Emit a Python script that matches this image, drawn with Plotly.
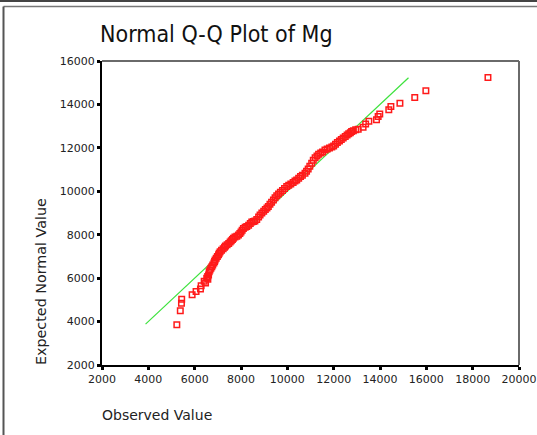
import plotly.graph_objects as go

observed = [
    5230, 5380, 5430, 5440, 5890, 6060, 6250, 6280, 6410, 6470, 6520, 6570, 6560, 6600,
    6625, 6660, 6700, 6741, 6780, 6830, 6860, 6883, 6930, 6980, 7030, 7060, 7099,
    7160, 7230, 7290, 7330, 7400, 7470, 7530, 7580, 7630, 7673,
    7740, 7820, 7890, 7950, 8000, 8050, 8104,
    8180, 8250, 8330, 8400, 8465, 8535, 8600,
    8680, 8760, 8823, 8900, 8980, 9050, 9120, 9180,
    9250, 9320, 9400, 9470, 9543, 9620, 9700, 9790, 9880, 9974,
    10060, 10150, 10250, 10330, 10405, 10490, 10570, 10650, 10762,
    10830, 10900, 10970, 11051, 11120, 11200, 11280, 11350, 11440, 11520, 11624,
    11720, 11820, 11920, 12000, 12080, 12160, 12250, 12330, 12413, 12500, 12580,
    12650, 12720, 12775, 12850, 12950,
    13060, 13270, 13380, 13520, 13850, 13920, 13990, 14380, 14470, 14860, 15500,
    15980, 18660,
]
expected = [
    3850, 4500, 4840, 5030, 5230, 5380, 5500, 5650, 5860, 5780, 6000, 5950, 6080, 6150,
    6300, 6380, 6460, 6530, 6610, 6700, 6770, 6838, 6920, 7000, 7080, 7150, 7221,
    7280, 7350, 7420, 7480, 7540, 7600, 7660, 7720, 7780, 7838,
    7890, 7930, 7990, 8060, 8130, 8200, 8290,
    8340, 8380, 8440, 8520, 8590, 8610, 8630,
    8700, 8820, 8910, 9000, 9080, 9160, 9230, 9295,
    9400, 9500, 9600, 9700, 9790, 9880, 9960, 10040, 10130, 10216,
    10280, 10340, 10400, 10470, 10525, 10600, 10680, 10740, 10830,
    10920, 11030, 11150, 11290, 11430, 11540, 11630, 11700, 11760, 11810, 11900,
    11950, 11990, 12040, 12080, 12170, 12250, 12320, 12390, 12450, 12520, 12590,
    12650, 12700, 12750, 12790, 12830,
    12860, 12950, 13100, 13220, 13290, 13440, 13560, 13750, 13900, 14060, 14320,
    14630, 15240,
]

# Reference line (expected = observed)
ref_x = [3880, 15230]
ref_y = [3880, 15230]

x_ticks = [2000, 4000, 6000, 8000, 10000, 12000, 14000, 16000, 18000, 20000]
y_ticks = [2000, 4000, 6000, 8000, 10000, 12000, 14000, 16000]

W, H = 537, 435
ML, MR, MT, MB = 102, 18, 61, 70
FONT = "DejaVu Sans"
FONT_C = "DejaVu Sans Condensed, DejaVu Sans"

fig = go.Figure()
fig.add_trace(go.Scatter(x=ref_x, y=ref_y, mode="lines",
                         line=dict(color="#3de23d", width=1.2),
                         hoverinfo="skip", showlegend=False))
fig.add_trace(go.Scatter(x=observed, y=expected, mode="markers",
                         marker=dict(symbol="square-open", size=5.5,
                                     color="#ff1a1a", line=dict(width=1.5, color="#ff1a1a")),
                         showlegend=False))

pw = W - ML - MR
ph = H - MT - MB
def px(x):
    return (x - ML) / pw
def py(y):
    return 1 - (y - MT) / ph

shapes = [
    dict(type="line", xref="paper", yref="paper", x0=0, x1=1, y0=1, y1=1,
         line=dict(color="#6a6a6a", width=2)),
    dict(type="line", xref="paper", yref="paper", x0=1, x1=1, y0=0, y1=1,
         line=dict(color="#6a6a6a", width=2)),
    dict(type="line", xref="paper", yref="paper", x0=px(0), x1=px(W), y0=py(1), y1=py(1),
         line=dict(color="#444444", width=2)),
    dict(type="line", xref="paper", yref="paper", x0=px(3.5), x1=px(W), y0=py(6.5), y1=py(6.5),
         line=dict(color="#777777", width=1.5)),
    dict(type="line", xref="paper", yref="paper", x0=px(3.5), x1=px(3.5), y0=py(6.5), y1=py(H),
         line=dict(color="#555555", width=2)),
]

fig.update_layout(
    width=W, height=H,
    margin=dict(l=ML, r=MR, t=MT, b=MB, autoexpand=False),
    paper_bgcolor="white", plot_bgcolor="white",
    font=dict(family=FONT, color="#222222"),
    shapes=shapes,
    title=dict(text="Normal Q-Q Plot of Mg", x=100 / W, xanchor="left", xref="container",
               y=1 - 34 / H, yanchor="middle", yref="container",
               font=dict(family=FONT_C, size=23, color="#111111")),
    annotations=[
        dict(text="Expected Normal Value", xref="paper", yref="paper",
             x=px(41), y=py(282), textangle=-90, showarrow=False,
             xanchor="center", yanchor="middle",
             font=dict(family=FONT, size=14.3, color="#222222")),
        dict(text="Observed Value", xref="paper", yref="paper",
             x=px(100), y=py(415), showarrow=False, xanchor="left", yanchor="middle",
             font=dict(family=FONT, size=14, color="#222222")),
    ],
    xaxis=dict(range=[2000, 20000], tickvals=x_ticks, ticktext=[str(v) for v in x_ticks],
               showgrid=False, zeroline=False, showline=True, linecolor="black", linewidth=2,
               ticks="outside", ticklen=3, tickwidth=3, tickcolor="black", automargin=False,
               tickfont=dict(family=FONT, size=11, color="#222222")),
    yaxis=dict(range=[2000, 16000], tickvals=y_ticks, ticktext=[str(v) for v in y_ticks],
               showgrid=False, zeroline=False, showline=True, linecolor="black", linewidth=2,
               ticks="outside", ticklen=3, tickwidth=3, tickcolor="black", automargin=False,
               tickfont=dict(family=FONT, size=11, color="#222222")),
)

fig.write_html("out.html", config={"displayModeBar": False},
               post_script="document.body.style.margin='0';")
